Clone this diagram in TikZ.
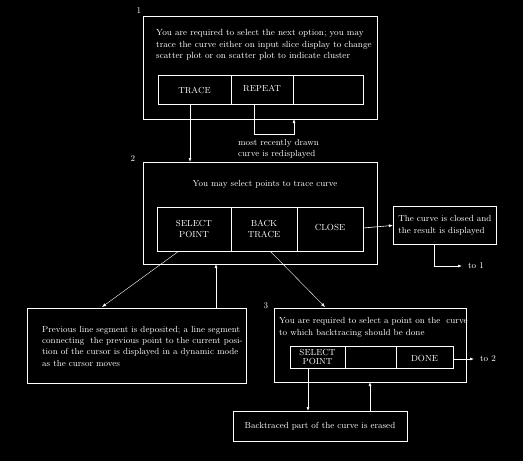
\documentclass[tikz,border=0pt]{standalone}
\usepackage{tikz}
\usetikzlibrary{arrows.meta}
\tikzset{
  panel/.style={draw=white,line width=0.8pt,inner sep=0pt},
  cell/.style={draw=white,line width=0.8pt,inner sep=0pt,align=center,font=\fontsize{8.8}{11}\selectfont},
  txt/.style={white,inner sep=0pt,align=left,font=\fontsize{8.8}{11.3}\selectfont},
  link/.style={white,line width=0.6pt,-{Latex[length=4pt,width=3pt]}}
}
\begin{document}
\begin{tikzpicture}[x=1pt,y=-1pt,white]
	\fill[black] (0,0) rectangle (523,461);
	\useasboundingbox (0,0) rectangle (523,461);
	% panel 1
	\draw[panel] (143,16) rectangle (377,119);
	\node[txt] at (139,11) {1};
	\node[txt,anchor=north west,font=\fontsize{8.9}{11.5}\selectfont] (p) at (156,29.5) {You are required to select the next option; you may\\trace the curve either on input slice display to change\\scatter plot or on scatter plot to indicate cluster};
	\draw[panel] (158,75) rectangle (231,104) node[midway,cell,draw=none,yshift=-1pt] (trace) {TRACE};
	\draw[panel] (231,75) rectangle (293,104) node[midway,cell,draw=none,yshift=1.5pt] (repeat) {REPEAT};
	\draw[panel] (293,75) rectangle (363,104);
	\coordinate (tr) at (190,104);
	\coordinate (rp) at (254,104);
	\coordinate (rb) at (294,119);
	\draw[link] (rp) -- (254,134) -- (294,134) -- (rb);
	\node[txt,anchor=north west] (redisp) at (238,139) {most recently drawn\\curve is redisplayed};
	% panel 2
	\draw[panel] (143,162) rectangle (377,264);
	\node[txt] at (133,159) {2};
	\node[txt] at (265,184) {You may select points to trace curve};
	\draw[panel] (157,207) rectangle (231,251) node[midway,cell,draw=none] (sel) {SELECT\\POINT};
	\draw[panel] (231,207) rectangle (297,251) node[midway,cell,draw=none] (back) {BACK\\TRACE};
	\draw[panel] (297,207) rectangle (363,251) node[midway,cell,draw=none,yshift=2pt] (close) {CLOSE};
	\coordinate (t2) at (190,162);
	\draw[link] (tr) -- (t2);
	% result of closing
	\node[panel,minimum width=103pt,minimum height=38pt,anchor=north west,txt,draw=white] (res) at (393,206) {The curve is closed and\\the result is displayed};
	\draw[link] (363,228) -- (res.west);
	\coordinate (to1) at (462,266);
	\draw[link] (434,244) -- (434,266) -- (to1);
	\node[txt,anchor=west] at (468,266) {to 1};
	% line segment box
	\draw[panel] (27,308) rectangle (246,383);
	\node[txt,anchor=north west] (seg) at (42,326) {Previous line segment is deposited; a line segment\\connecting\ \ the previous point to the current posi-\\tion of the cursor is displayed in a dynamic mode\\as the cursor moves};
	\draw[link,line width=0.4pt] (179,251) -- (102,307);
	\draw[link] (216,308) -- (216,264);
	% panel 3
	\draw[panel] (274,308) rectangle (466,382);
	\node[txt] at (266,306) {3};
	\node[txt,anchor=north west] (req) at (279,317.5) {You are required to select a point on the\ \ curve\\to which backtracing should be done};
	\draw[panel] (290,346) rectangle (345,368) node[midway,cell,draw=none,font=\fontsize{8.8}{9.5}\selectfont] (sel3) {SELECT\\POINT};
	\draw[panel] (345,346) rectangle (396,368);
	\draw[panel] (396,346) rectangle (453,368) node[midway,cell,draw=none,yshift=-1.5pt] (done) {DONE};
	\draw[link,line width=0.4pt] (270,251) -- (325,307);
	\coordinate (to2) at (474,359);
	\draw[link] (453,359) -- (to2);
	\node[txt,anchor=west] at (480,359) {to 2};
	% erased box
	\draw[panel] (233,411) rectangle (407,441) node[midway,txt] (erase) {Backtraced part of the curve is erased};
	\draw[link] (308,368) -- (308,411);
	\draw[link] (370,411) -- (370,382);
\end{tikzpicture}
\end{document}
